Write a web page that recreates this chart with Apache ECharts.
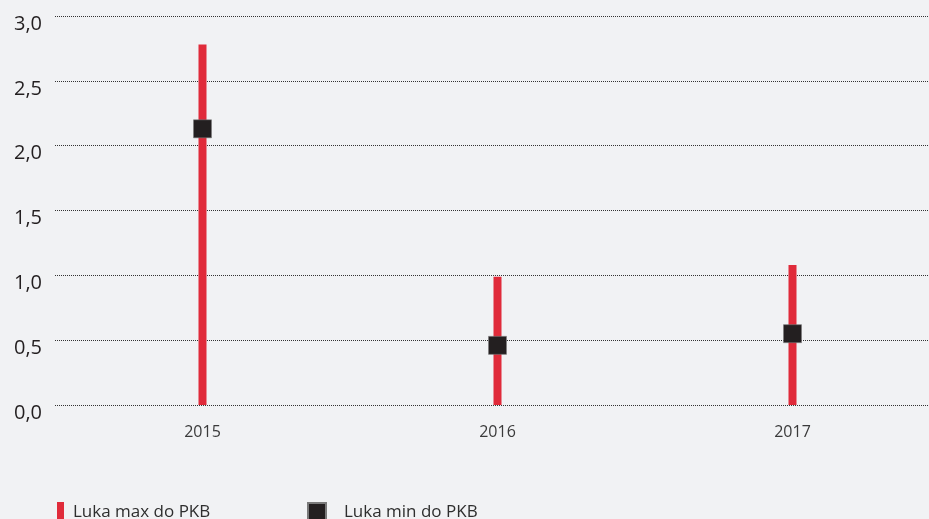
<!DOCTYPE html>
<html>
<head>
<meta charset="utf-8">
<script src="https://cdn.jsdelivr.net/npm/echarts@6/dist/echarts.min.js"></script>
<style>
  html, body { margin: 0; padding: 0; background: #f1f2f4; }
  #chart { width: 929px; height: 519px; }
</style>
</head>
<body>
<div id="chart"></div>
<script>
// Output gap range (% of GDP) per year
const years = ['2015', '2016', '2017'];
const gapMax = [2.78, 0.99, 1.08];
const gapMin = [2.13, 0.46, 0.55];
const yTicks = { min: 0, max: 3, interval: 0.5 };

const RED = '#e02b3a';
const DARK = '#231f20';

const chart = echarts.init(document.getElementById('chart'), null, { renderer: 'canvas' });

chart.setOption({
  backgroundColor: '#f1f2f4',
  animation: false,
  textStyle: { fontFamily: '"Open Sans", sans-serif' },
  // plot area runs past the right edge of the canvas
  grid: { left: 55, width: 885, top: 16, height: 389, containLabel: false, outerBoundsMode: 'none' },
  legend: [
    {
      data: ['Luka max do PKB'],
      left: 52, top: 497,
      icon: 'rect', itemWidth: 7, itemHeight: 20,
      textStyle: { fontSize: 17, color: '#2e2e2e', padding: [0, 0, 0, 4] },
      selectedMode: false
    },
    {
      data: ['Luka min do PKB'],
      left: 302, top: 497,
      icon: 'rect', itemWidth: 18, itemHeight: 18,
      textStyle: { fontSize: 17, color: '#2e2e2e', padding: [0, 0, 0, 13] },
      selectedMode: false
    }
  ],
  xAxis: {
    type: 'category',
    data: years,
    axisLine: { show: false },
    axisTick: { show: false },
    axisLabel: { color: '#3a3a3a', fontSize: 16, margin: 19 }
  },
  yAxis: {
    type: 'value',
    min: yTicks.min, max: yTicks.max, interval: yTicks.interval,
    axisLine: { show: false },
    axisTick: { show: false },
    axisLabel: {
      color: DARK, fontSize: 20, margin: 13,
      verticalAlign: 'top', lineHeight: 16,
      formatter: v => v.toFixed(1).replace('.', ',')
    },
    splitLine: { lineStyle: { type: 'dotted', color: '#333', width: 1 } }
  },
  series: [
    {
      name: 'Luka max do PKB',
      type: 'bar',
      data: gapMax,
      barWidth: 8,
      itemStyle: { color: RED }
    },
    {
      name: 'Luka min do PKB',
      type: 'scatter',
      data: gapMin,
      symbol: 'rect',
      symbolSize: 18,
      itemStyle: { color: DARK, opacity: 1, borderColor: '#7a7a7a', borderWidth: 0.6 },
      z: 5
    }
  ]
});
</script>
</body>
</html>
